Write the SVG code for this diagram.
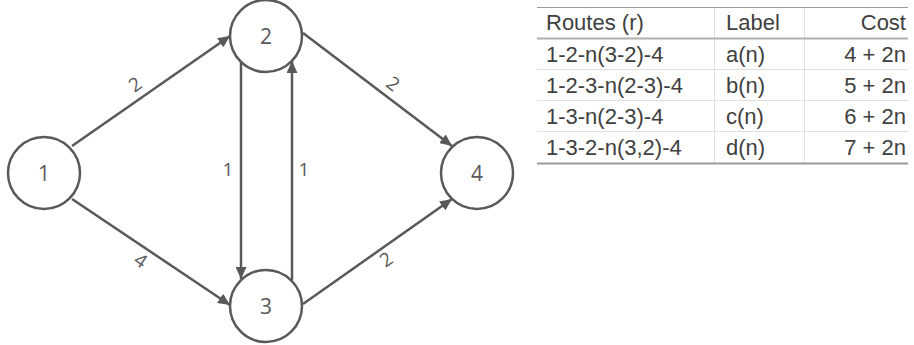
<svg xmlns="http://www.w3.org/2000/svg" width="914" height="345" viewBox="0 0 914 345">
  <style>
    .node circle { fill: #ffffff; stroke: #595959; stroke-width: 2.5; }
    .node text { font-family: "Open Sans", "DejaVu Sans", sans-serif; font-size: 21px; fill: #595959; text-anchor: middle; }
    .edge { stroke: #595959; stroke-width: 2.5; fill: none; marker-end: url(#arrow); }
    .elabel { font-family: "Open Sans", "DejaVu Sans", sans-serif; font-size: 19px; fill: #595959; text-anchor: middle; }
    .tbl { font-family: "Liberation Sans", Arial, sans-serif; font-size: 22px; fill: #404040; }
    .end { text-anchor: end; }
  </style>
  <defs>
    <marker id="arrow" viewBox="0 0 12 11" refX="12" refY="5.5" markerWidth="12" markerHeight="11" markerUnits="userSpaceOnUse" orient="auto">
      <path d="M0,0 L12,5.5 L0,11 z" fill="#595959"/>
    </marker>
  </defs>
  <rect width="914" height="345" fill="#ffffff"/>

  <g id="connectors">
    <line class="edge" x1="72" y1="146" x2="230" y2="36"/>
    <line class="edge" x1="72" y1="199" x2="230" y2="305"/>
    <line class="edge" x1="303" y1="33" x2="452" y2="146"/>
    <line class="edge" x1="303" y1="304" x2="452" y2="199"/>
    <line class="edge" x1="241" y1="62" x2="241" y2="279"/>
    <line class="edge" x1="292" y1="280" x2="292" y2="61"/>
    <text class="elabel" transform="translate(139,90) rotate(-35)">2</text>
    <text class="elabel" transform="translate(137,266) rotate(34)">4</text>
    <text class="elabel" transform="translate(389,89) rotate(37)">2</text>
    <text class="elabel" transform="translate(390,265) rotate(-35)">2</text>
    <text class="elabel" x="228" y="176">1</text>
    <text class="elabel" x="304" y="176">1</text>
  </g>

  <g id="node1" class="node">
    <circle cx="44" cy="173" r="36"/>
    <text x="44" y="180.5">1</text>
  </g>
  <g id="node2" class="node">
    <circle cx="266" cy="36" r="36"/>
    <text x="266" y="43.5">2</text>
  </g>
  <g id="node3" class="node">
    <circle cx="266" cy="306" r="36"/>
    <text x="266" y="313.5">3</text>
  </g>
  <g id="node4" class="node">
    <circle cx="477" cy="173" r="36"/>
    <text x="477" y="180.5">4</text>
  </g>

  <g id="table">
    <line x1="714.5" y1="7" x2="714.5" y2="163" stroke="#e0e0e0" stroke-width="1"/>
    <line x1="804.5" y1="7" x2="804.5" y2="163" stroke="#e0e0e0" stroke-width="1"/>
    <line x1="537" y1="7.5" x2="908" y2="7.5" stroke="#9a9a9a" stroke-width="1"/>
    <line x1="537" y1="38.5" x2="908" y2="38.5" stroke="#b0b0b0" stroke-width="2"/>
    <line x1="537" y1="69.5" x2="908" y2="69.5" stroke="#e0e0e0" stroke-width="1"/>
    <line x1="537" y1="100.5" x2="908" y2="100.5" stroke="#e0e0e0" stroke-width="1"/>
    <line x1="537" y1="131.5" x2="908" y2="131.5" stroke="#e0e0e0" stroke-width="1"/>
    <line x1="537" y1="163.5" x2="908" y2="163.5" stroke="#999999" stroke-width="2"/>

    <text class="tbl" x="546" y="30">Routes (r)</text>
    <text class="tbl" x="726" y="30">Label</text>
    <text class="tbl end" x="906" y="30">Cost</text>

    <text class="tbl" x="546" y="62">1-2-n(3-2)-4</text>
    <text class="tbl" x="726" y="62">a(n)</text>
    <text class="tbl end" x="906" y="62">4 + 2n</text>

    <text class="tbl" x="546" y="93">1-2-3-n(2-3)-4</text>
    <text class="tbl" x="726" y="93">b(n)</text>
    <text class="tbl end" x="906" y="93">5 + 2n</text>

    <text class="tbl" x="546" y="124">1-3-n(2-3)-4</text>
    <text class="tbl" x="726" y="124">c(n)</text>
    <text class="tbl end" x="906" y="124">6 + 2n</text>

    <text class="tbl" x="546" y="155">1-3-2-n(3,2)-4</text>
    <text class="tbl" x="726" y="155">d(n)</text>
    <text class="tbl end" x="906" y="155">7 + 2n</text>
  </g>
</svg>
